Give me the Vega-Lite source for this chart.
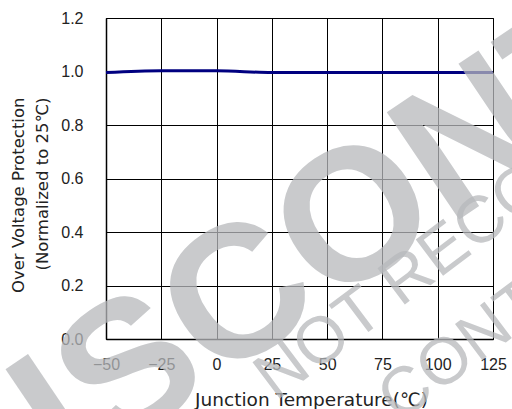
{
  "$schema": "https://vega.github.io/schema/vega-lite/v6.json",
  "width": 387,
  "height": 321,
  "autosize": "none",
  "padding": {"left": 106, "top": 18, "right": 19, "bottom": 70},
  "background": "white",
  "config": {
    "view": {"stroke": "black", "strokeWidth": 1},
    "font": "Liberation Sans"
  },
  "datasets": {
    "curve": [
      {"temperature": -50, "value": 0.996},
      {"temperature": -25, "value": 1.003},
      {"temperature": 0, "value": 1.003},
      {"temperature": 25, "value": 0.996},
      {"temperature": 50, "value": 0.996},
      {"temperature": 75, "value": 0.996},
      {"temperature": 100, "value": 0.996},
      {"temperature": 125, "value": 0.996}
    ],
    "watermark": [
      {"label": "DISCONTINUED", "temperature": 135.8, "value": 0.845},
      {"label": "NOT RECOMMENDED", "temperature": 26.7, "value": -0.235},
      {"label": "CONTACT", "temperature": 82.5, "value": -0.314}
    ]
  },
  "encoding": {
    "x": {
      "field": "temperature", "type": "quantitative",
      "scale": {"domain": [-50, 125], "nice": false, "zero": false},
      "axis": {
        "values": [-50, -25, 0, 25, 50, 75, 100, 125],
        "grid": true, "gridColor": "black", "gridOpacity": 1, "gridWidth": 1,
        "ticks": false, "domainColor": "black", "domainWidth": 1.5,
        "labelFontSize": 16, "labelColor": "#222222", "labelPadding": 17, "labelFlush": false,
        "title": "Junction Temperature(℃)",
        "titleFont": "DejaVu Sans", "titleFontSize": 18.5, "titleFontWeight": "normal", "titleColor": "#222222",
        "titleX": 205, "titleY": 66, "titleBaseline": "alphabetic"
      }
    },
    "y": {
      "field": "value", "type": "quantitative",
      "scale": {"domain": [0, 1.2], "nice": false},
      "axis": {
        "values": [0, 0.2, 0.4, 0.6, 0.8, 1.0, 1.2],
        "format": ".1f",
        "grid": true, "gridColor": "black", "gridOpacity": 1, "gridWidth": 1,
        "ticks": false, "domainColor": "black", "domainWidth": 1.5,
        "labelFontSize": 16, "labelColor": "#222222", "labelPadding": 23, "labelFlush": false,
        "title": ["Over Voltage Protection", "(Normalized to 25℃)"],
        "titleFont": "DejaVu Sans", "titleFontSize": 16.5, "titleFontWeight": "normal", "titleColor": "#222222",
        "titleLineHeight": 24, "titleX": -96, "titleY": 79, "titleBaseline": "top", "titleAlign": "right", "titleAngle": -90
      }
    }
  },
  "layer": [
    {
      "data": {"name": "curve"},
      "mark": {"type": "line", "color": "#000080", "strokeWidth": 3, "interpolate": "monotone"}
    },
    {
      "data": {"name": "watermark"},
      "transform": [{"filter": "datum.label === 'DISCONTINUED'"}],
      "mark": {"type": "text", "font": "Liberation Sans", "fontWeight": "bold", "fontSize": 188, "angle": -34, "align": "center", "baseline": "middle", "color": "#b7b9bc", "opacity": 0.75},
      "encoding": {"text": {"field": "label"}}
    },
    {
      "data": {"name": "watermark"},
      "transform": [{"filter": "datum.label !== 'DISCONTINUED'"}],
      "mark": {"type": "text", "font": "Liberation Sans", "fontSize": 66, "angle": -37, "align": "left", "baseline": "alphabetic", "color": "#b7b9bc", "opacity": 0.75},
      "encoding": {"text": {"field": "label"}}
    }
  ]
}
